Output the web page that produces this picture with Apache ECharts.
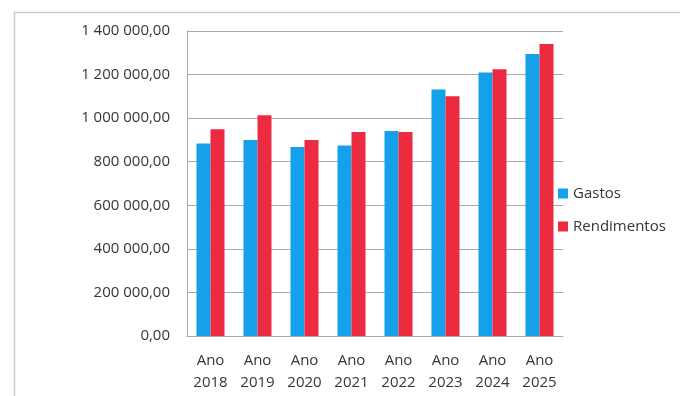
<!DOCTYPE html>
<html>
<head>
<meta charset="utf-8">
<style>
  html, body { margin: 0; padding: 0; background: #fff; }
  #chart { width: 680px; height: 396px; }
</style>
<script src="https://cdn.jsdelivr.net/npm/echarts@6/dist/echarts.min.js"></script>
</head>
<body>
<div id="chart"></div>
<script>
// Yearly figures
const years = ['2018', '2019', '2020', '2021', '2022', '2023', '2024', '2025'];
const categoryPrefix = 'Ano';
const gastos = [884000, 900000, 867000, 874000, 941000, 1132000, 1210000, 1294000];
const rendimentos = [949000, 1013000, 900000, 936000, 936000, 1100000, 1225000, 1340000];
const seriesNames = ['Gastos', 'Rendimentos'];
const yTicks = { min: 0, max: 1400000, interval: 200000 };

const textColor = '#363636';
const fontFamily = '"Open Sans", "Liberation Sans", sans-serif';

// "1 400 000,00" style numbers
function fmtNumber(v) {
  const parts = Math.round(v).toString().replace(/\B(?=(\d{3})+(?!\d))/g, ' ');
  return parts + ',00';
}

const chart = echarts.init(document.getElementById('chart'), null, { renderer: 'canvas' });

chart.setOption({
  backgroundColor: '#ffffff',
  animation: false,
  graphic: [{
    type: 'rect',
    shape: { x: 14.5, y: 12.5, width: 760, height: 500 },
    style: { fill: 'none', stroke: '#c6ccd3', lineWidth: 1.5 },
    z: -10
  }],
  grid: { left: 187, right: 117, top: 31, bottom: 60 },
  legend: {
    orient: 'vertical',
    left: 553,
    top: 181,
    itemWidth: 10,
    itemHeight: 10,
    itemGap: 18,
    icon: 'rect',
    textStyle: { color: textColor, fontSize: 15, fontFamily: fontFamily },
    data: seriesNames
  },
  xAxis: {
    type: 'category',
    data: years.map(y => categoryPrefix + '\n' + y),
    axisLine: { show: true, lineStyle: { color: '#a9a9a9', width: 1 } },
    axisTick: { show: false },
    axisLabel: {
      color: textColor,
      fontSize: 15,
      fontFamily: fontFamily,
      lineHeight: 22,
      margin: 14,
      interval: 0
    }
  },
  yAxis: {
    type: 'value',
    min: yTicks.min,
    max: yTicks.max,
    interval: yTicks.interval,
    axisLine: { show: true, lineStyle: { color: '#a9a9a9', width: 1 } },
    axisTick: { show: false },
    splitLine: { show: true, lineStyle: { color: '#a9a9a9', width: 1 } },
    axisLabel: {
      color: textColor,
      fontSize: 15,
      fontFamily: fontFamily,
      margin: 17,
      formatter: fmtNumber
    }
  },
  series: [
    {
      name: seriesNames[0],
      type: 'bar',
      data: gastos,
      barWidth: 14,
      barGap: '0%',
      itemStyle: { color: '#14a0ea' }
    },
    {
      name: seriesNames[1],
      type: 'bar',
      data: rendimentos,
      barWidth: 14,
      barGap: '0%',
      itemStyle: { color: '#ec2a40' }
    }
  ]
});
</script>
</body>
</html>
